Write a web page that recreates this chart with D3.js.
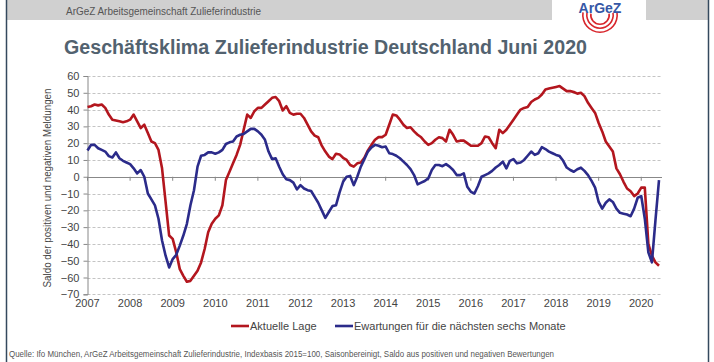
<!DOCTYPE html>
<html>
<head>
<meta charset="utf-8">
<script src="https://cdn.jsdelivr.net/npm/d3@7"></script>
<style>
    body { margin: 0; background: #fff; }
    text { font-family: "Liberation Sans", Arial, sans-serif; }
</style>
</head>
<body>
<div id="chart"></div>
<script>
// Monthly values Jan 2007 - Jun 2020
const years = [2007, 2008, 2009, 2010, 2011, 2012, 2013, 2014, 2015, 2016, 2017, 2018, 2019, 2020];
const yTicks = [60, 50, 40, 30, 20, 10, 0, -10, -20, -30, -40, -50, -60, -70];

const aktuelleLage = [
    41.5, 42, 43, 42.5, 43, 41, 37, 34, 33.5, 33, 32.5, 33,
    34, 37, 33, 29, 31, 26, 21, 20, 16, 5, -15, -35,
    -37, -45, -55, -59, -62.5, -62, -59, -56, -51, -43, -33, -28,
    -25, -23, -17, -2, 3, 8, 13, 19, 28, 37, 35, 39,
    41, 41, 43, 45, 47, 47.5, 45, 39.5, 42, 38, 37, 37.5,
    37.5, 35, 31, 27, 24.5, 23.5, 18.5, 15, 12, 10.5, 13.7, 13.3,
    11.3, 10, 7, 6, 8, 8.5, 11.3, 15.7, 19, 22, 23.6, 23.6,
    25, 31, 37, 36.5, 34, 31, 29, 29.5, 27, 25, 23.5, 21,
    19, 20, 22, 23.5, 23, 21, 28, 25, 21, 21.5, 21.5, 20,
    18.5, 18.5, 18.5, 20, 24, 23.5, 20, 17, 28, 26, 28, 31,
    34, 37, 40, 41, 41.5, 44.5, 46, 47, 49, 52, 52.5, 53,
    53.5, 54, 52.5, 51, 51, 50.5, 49.5, 50, 48, 44, 41, 38,
    32, 27, 21, 18, 15, 5, 1.5, -3, -7, -8.6, -11.5, -10,
    -6.5, -6.5, -40, -47, -51, -53
];

const erwartungen = [
    15.6, 19, 19, 17, 16, 15, 12.3, 11.5, 14.5, 11, 9.5, 8.5,
    7.5, 5, 2, 4, 0, -10, -13.5, -17, -25, -38, -47, -54,
    -49, -46.5, -41, -35, -28, -17, -8, 6, 12.5, 13, 14.5, 14.5,
    13.7, 14.5, 16, 19.5, 20.5, 21, 24, 25, 25.5, 27, 28.5, 28.5,
    27, 25, 22, 15, 10.5, 11, 6, 1.5, -1.5, -2, -3.5, -7.5,
    -5, -7, -8, -8.5, -12, -15.5, -20, -24.5, -21, -17.5, -17, -9.5,
    -3, 0, 0.5, -5, 0, 6, 10.5, 15, 17.5, 19, 18.5, 17.6,
    18, 14, 13.5, 12.5, 11, 9, 7, 4.5, 1, -4.5, -3.5, -2.5,
    -1, 4, 7, 7, 6.3, 7.5, 6, 4, 1, 1, 2, -6,
    -9, -10, -5.5, 0, 1, 2, 3.5, 5.5, 7, 9, 5, 9.5,
    10.5, 8, 8.5, 10, 12.5, 15, 13, 14, 17.6, 16.5, 15, 14,
    13, 12.3, 9.5, 5.5, 4, 3, 4.5, 5.4, 3.5, 1, -2.5, -6.5,
    -15, -19, -15.5, -13.5, -15, -19, -21.5, -22, -22.5, -23.5, -19, -12.5,
    -11.5, -25, -45, -51, -26, -2
];

const seriesNames = ["Aktuelle Lage", "Ewartungen für die nächsten sechs Monate"];
const seriesColors = ["#b3161e", "#2b2b8a"];

const W = 714, H = 362;
const svg = d3.select("#chart")
    .append("svg")
    .attr("width", W)
    .attr("height", H);

// header band + frame
svg.append("rect").attr("x", 7).attr("y", 0).attr("width", 701).attr("height", 20).attr("fill", "#d0d0d0");
svg.append("rect").attr("x", 552).attr("y", 0).attr("width", 94).attr("height", 32).attr("fill", "#fff");
svg.append("line").attr("x1", 6.5).attr("x2", 6.5).attr("y1", 0).attr("y2", H)
    .attr("stroke", "#34495e").attr("stroke-width", 1.5);
svg.append("line").attr("x1", 708.5).attr("x2", 708.5).attr("y1", 0).attr("y2", H)
    .attr("stroke", "#34495e").attr("stroke-width", 1.5);

svg.append("text")
    .attr("x", 66).attr("y", 15)
    .attr("font-size", 11)
    .attr("fill", "#555")
    .attr("textLength", 195).attr("lengthAdjust", "spacingAndGlyphs")
    .text("ArGeZ Arbeitsgemeinschaft Zulieferindustrie");

// logo (rough)
const logo = svg.append("g").attr("transform", "translate(600,15)");
[18, 14, 10].forEach(function (r) {
    logo.append("path")
        .attr("d", d3.arc()({innerRadius: r - 1.6, outerRadius: r, startAngle: Math.PI * 0.45, endAngle: Math.PI * 1.55}))
        .attr("fill", "#d8262c");
});
logo.append("text")
    .attr("x", 0).attr("y", -2)
    .attr("text-anchor", "middle")
    .attr("font-size", 14).attr("font-weight", "bold")
    .attr("fill", "#3557a6")
    .text("ArGeZ");

// title
svg.append("text")
    .attr("x", 64).attr("y", 54)
    .attr("font-size", 20).attr("font-weight", "bold")
    .attr("fill", "#52626f")
    .attr("textLength", 523).attr("lengthAdjust", "spacingAndGlyphs")
    .text("Geschäftsklima Zulieferindustrie Deutschland Juni 2020");

// scales
const x = d3.scaleLinear().domain([0, aktuelleLage.length - 1]).range([87.5, 659]);
const y = d3.scaleLinear().domain([-70, 60]).range([294.3, 76]);
const plotRight = 662;

// gridlines
svg.append("g")
    .selectAll("line")
    .data(yTicks.filter(d => d !== 0))
    .enter()
    .append("line")
    .attr("x1", 87.5).attr("x2", plotRight)
    .attr("y1", d => Math.round(y(d)) + 0.5).attr("y2", d => Math.round(y(d)) + 0.5)
    .attr("stroke", "#c4c4c4")
    .attr("stroke-dasharray", "3,2");

// y axis
const yAxis = svg.append("g")
    .attr("transform", "translate(87.5,0)")
    .call(d3.axisLeft(y).tickValues(yTicks).tickSize(4).tickPadding(4));
yAxis.select(".domain").attr("stroke", "#888");
yAxis.selectAll(".tick line").attr("stroke", "#888");
yAxis.selectAll("text").attr("font-size", 11).attr("fill", "#444")
    .style("font-family", "Liberation Sans, Arial, sans-serif");

// zero axis with year ticks
const yearIdx = years.map((d, i) => i * 12);
svg.append("line")
    .attr("x1", 87.5).attr("x2", plotRight)
    .attr("y1", Math.round(y(0)) + 0.5).attr("y2", Math.round(y(0)) + 0.5)
    .attr("stroke", "#888");
svg.append("g")
    .selectAll("line")
    .data(yearIdx)
    .enter()
    .append("line")
    .attr("x1", d => x(d)).attr("x2", d => x(d))
    .attr("y1", y(0)).attr("y2", y(0) + 4)
    .attr("stroke", "#888");

// year labels
svg.append("g")
    .selectAll("text")
    .data(years)
    .enter()
    .append("text")
    .attr("x", (d, i) => x(i * 12))
    .attr("y", 307)
    .attr("text-anchor", "middle")
    .attr("font-size", 11)
    .attr("fill", "#444")
    .text(d => d);

// y axis title
svg.append("text")
    .attr("transform", "translate(51,188) rotate(-90)")
    .attr("text-anchor", "middle")
    .attr("font-size", 10.5)
    .attr("fill", "#444")
    .attr("textLength", 199).attr("lengthAdjust", "spacingAndGlyphs")
    .text("Saldo der positiven und negativen Meldungen");

// lines
const line = d3.line()
    .x((d, i) => x(i))
    .y(d => y(d));
[aktuelleLage, erwartungen].forEach(function (s, k) {
    svg.append("path")
        .datum(s)
        .attr("d", line)
        .attr("fill", "none")
        .attr("stroke", seriesColors[k])
        .attr("stroke-width", 2.6)
        .attr("stroke-linejoin", "round");
});

// legend
const legendX = [231, 335];
seriesNames.forEach(function (name, k) {
    svg.append("line")
        .attr("x1", legendX[k]).attr("x2", legendX[k] + 18)
        .attr("y1", 326).attr("y2", 326)
        .attr("stroke", seriesColors[k]).attr("stroke-width", 2.6);
    svg.append("text")
        .attr("x", legendX[k] + 19).attr("y", 330)
        .attr("font-size", 11)
        .attr("fill", "#444")
        .text(name);
});

// footer
svg.append("text")
    .attr("x", 9).attr("y", 357)
    .attr("font-size", 8.5)
    .attr("fill", "#555")
    .attr("textLength", 545).attr("lengthAdjust", "spacingAndGlyphs")
    .text("Quelle: Ifo München, ArGeZ Arbeitsgemeinschaft Zulieferindustrie, Indexbasis 2015=100, Saisonbereinigt, Saldo aus positiven und negativen Bewertungen");
</script>
</body>
</html>
